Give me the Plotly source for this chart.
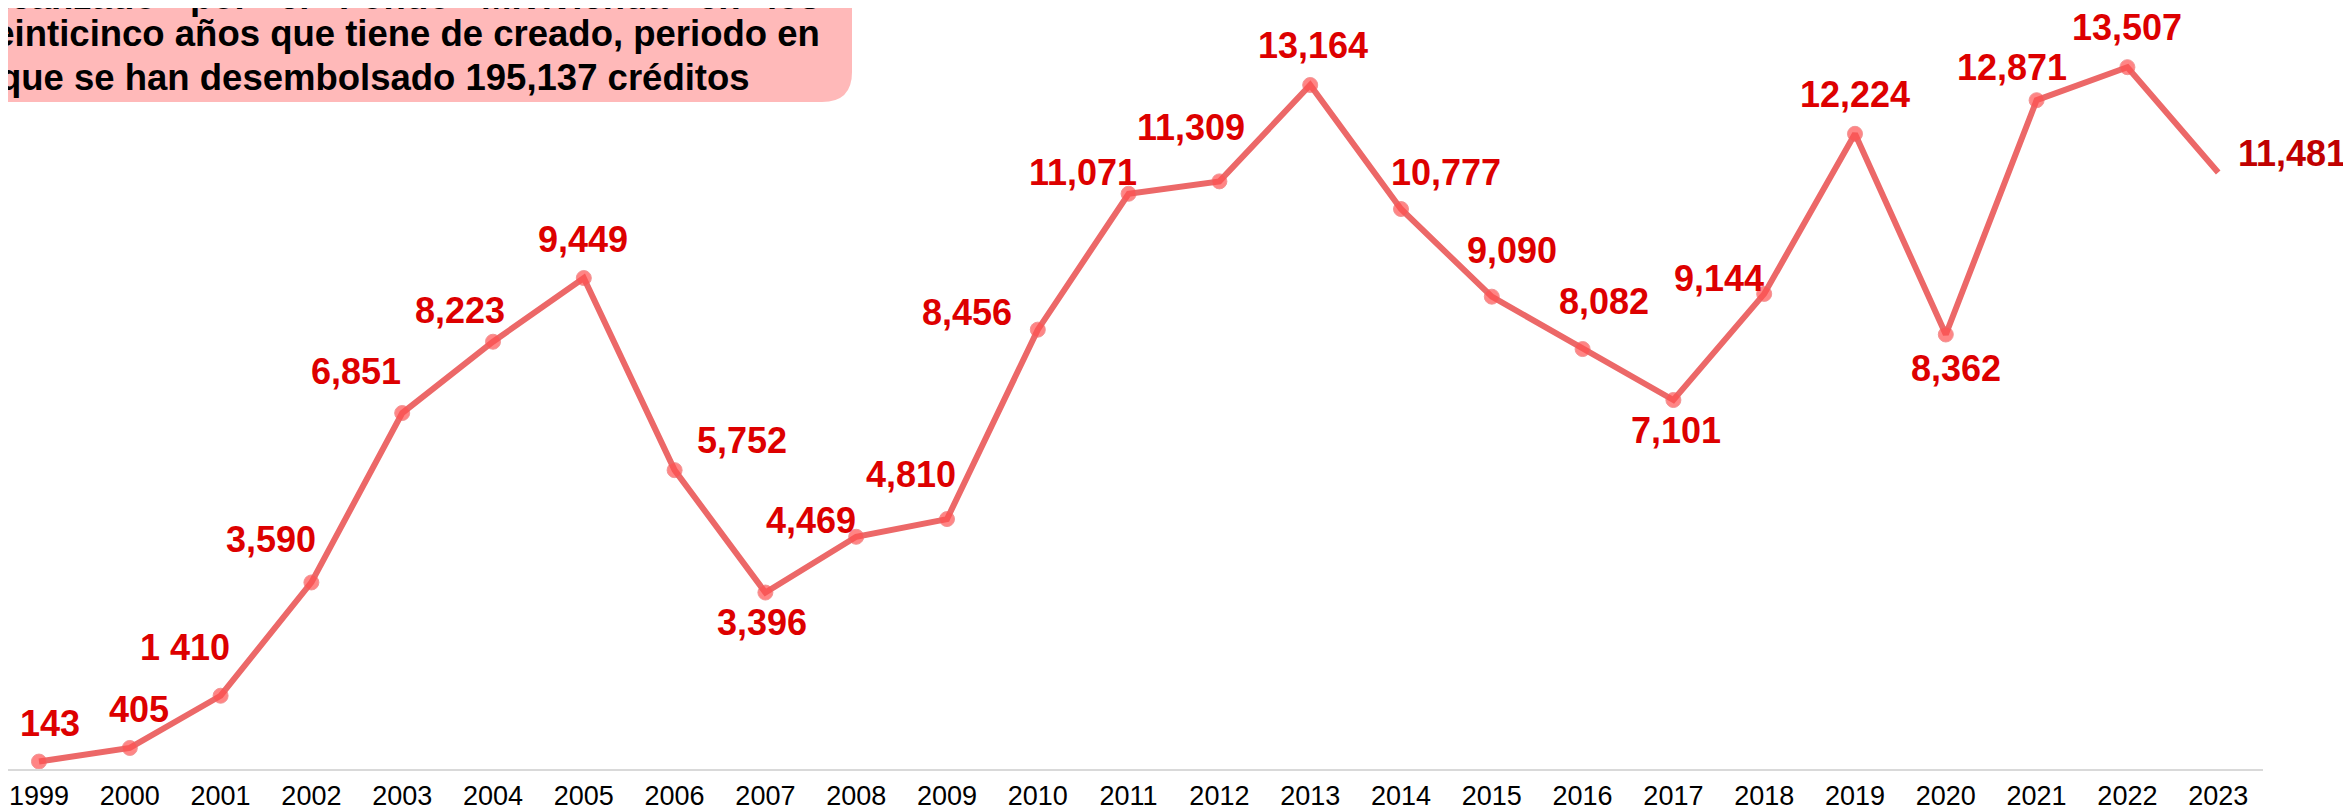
import plotly.graph_objects as go

# ---- data ----
years = list(range(1999, 2024))
values = [143, 405, 1410, 3590, 6851, 8223, 9449, 5752, 3396, 4469, 4810, 8456,
          11071, 11309, 13164, 10777, 9090, 8082, 7101, 9144, 12224, 8362,
          12871, 13507, 11481]
value_labels = ["143", "405", "1 410", "3,590", "6,851", "8,223", "9,449", "5,752",
                "3,396", "4,469", "4,810", "8,456", "11,071", "11,309", "13,164",
                "10,777", "9,090", "8,082", "7,101", "9,144", "12,224", "8,362",
                "12,871", "13,507", "11,481"]
tick_labels = [str(y) for y in years]

box_line1_words = ["alcanzado", "por", "el", "Fondo", "Mivivienda", "en", "los"]
box_line2 = "veinticinco años que tiene de creado, periodo en"
box_line3 = "que se han desembolsado 195,137 créditos"

# ---- style ----
W, H = 2351, 812
OFF = 8            # page body margin offset
PLOT_R = 2263 - OFF   # figure px right edge of plot area
AXIS_Y = 769 - OFF    # figure px of x-axis line
X0_PX = 39 - OFF      # figure px of first category
STEP = 90.8
FONT = "Arial, Liberation Sans, Arimo, sans-serif"
LINE_COLOR = "#EC6868"
MARKER_COLOR = "#FF5252"
LABEL_COLOR = "#DD0000"

# label offsets (px): (dx right, dy up)
label_offsets = [(11, 38), (9, 38), (-36, 48), (-40, 43), (-46, 42), (-33, 31),
                 (-1, 39), (67, 30), (-3, -30), (-45, 16), (-36, 45), (-71, 17),
                 (-46, 21), (-28, 54), (3, 40), (45, 37), (20, 46), (21, 48),
                 (3, -30), (-45, 15), (0, 39), (10, -34), (-25, 33), (0, 40),
                 (74, 19)]
label_colors = [LABEL_COLOR] * (len(values) - 1) + ["#C00000"]
marker_sizes = [15] * (len(values) - 1) + [0]

fig = go.Figure()
fig.add_trace(go.Scatter(
    x=years, y=values, mode="lines+markers",
    line=dict(color=LINE_COLOR, width=6),
    marker=dict(color=MARKER_COLOR, size=marker_sizes),
    cliponaxis=False, hoverinfo="skip", showlegend=False,
))

for yr, v, lab, (dx, dy), c in zip(years, values, value_labels, label_offsets, label_colors):
    fig.add_annotation(x=yr, y=v, text=f"<b>{lab}</b>", showarrow=False,
                       xshift=dx, yshift=dy, xanchor="center", yanchor="middle",
                       font=dict(family=FONT, size=36, color=c))

# page pixel -> paper helpers
def px(x):
    return (x - OFF) / PLOT_R

def py(y):
    return 1 - (y - OFF) / AXIS_Y

# pink rounded box
bx, by, r = 852, 102, 30
path = (f"M {px(-10)},{py(-10)} L {px(bx)},{py(-10)} L {px(bx)},{py(by - r)} "
        f"Q {px(bx)},{py(by)} {px(bx - r)},{py(by)} L {px(-10)},{py(by)} Z")
fig.add_shape(type="path", path=path, xref="paper", yref="paper",
              fillcolor="#FFB9B9", line=dict(width=0), layer="below")

TXT = dict(family=FONT, size=36.5, color="black")
# line 1 (justified, mostly clipped at top): (page px, anchor)
word_pos = [(158, "right"), (188, "left"), (277, "left"), (337, "left"),
            (479, "left"), (696, "left"), (822, "right")]
for w, (xp, anc) in zip(box_line1_words, word_pos):
    fig.add_annotation(x=px(xp), y=py(-4), xref="paper", yref="paper",
                       text=f"<b>{w}</b>", showarrow=False, xanchor=anc,
                       yanchor="middle", font=TXT)
fig.add_annotation(x=px(822), y=py(34), xref="paper", yref="paper",
                   text=f"<b>{box_line2}</b>", showarrow=False, xanchor="right",
                   yanchor="middle", font=TXT)
fig.add_annotation(x=px(-3), y=py(78), xref="paper", yref="paper",
                   text=f"<b>{box_line3}</b>", showarrow=False, xanchor="left",
                   yanchor="middle", font=TXT)

x0 = years[0] - X0_PX / STEP
x1 = years[0] + (PLOT_R - X0_PX) / STEP
fig.update_xaxes(range=[x0, x1], tickvals=years, ticktext=tick_labels,
                 showgrid=False, zeroline=False, showline=True,
                 linecolor="#D9D9D9", linewidth=2, ticks="",
                 ticklabelstandoff=2,
                 tickfont=dict(family=FONT, size=27, color="black"))
fig.update_yaxes(range=[0, AXIS_Y / 0.05196], visible=False, showgrid=False)

fig.update_layout(
    width=W, height=H,
    margin=dict(l=0, r=W - PLOT_R, t=0, b=H - AXIS_Y, pad=0),
    plot_bgcolor="white", paper_bgcolor="white",
)

fig.write_html("out.html")
